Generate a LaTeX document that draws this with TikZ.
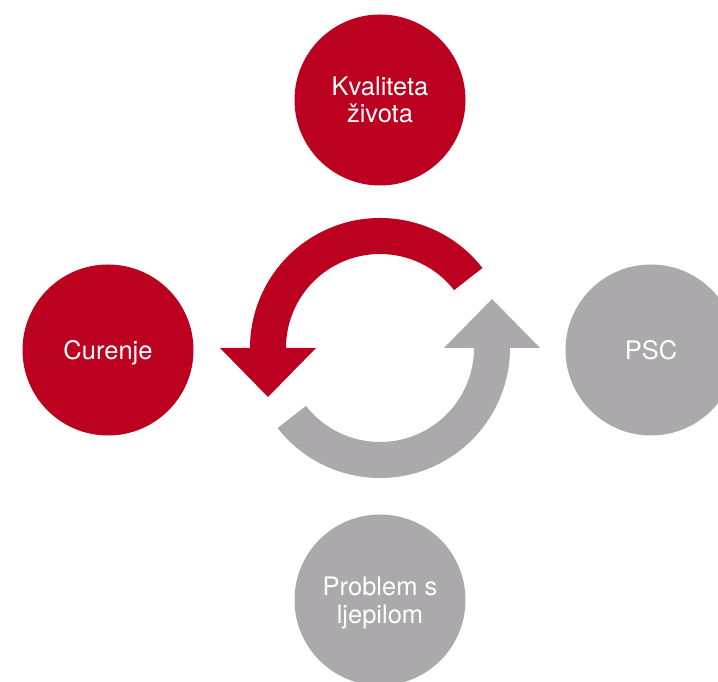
\documentclass[tikz,border=0pt]{standalone}
\usepackage{fontspec}
\setmainfont{TeX Gyre Heros}
\usetikzlibrary{calc}
\definecolor{cred}{HTML}{BC0020}
\definecolor{cgray}{HTML}{ABA9AB}
\begin{document}
\begin{tikzpicture}[x=1bp,y=1bp,
  bubble/.style={circle,minimum size=171bp,inner sep=0pt,text=white,align=center,
    font=\fontsize{25.5bp}{27.5bp}\selectfont},
  redbubble/.style={bubble,fill=cred},
  graybubble/.style={bubble,fill=cgray}]
\useasboundingbox (0,0) rectangle (718,682);
\coordinate (c) at (380,334);
\node[redbubble] (kval) at (380,582) {Kvaliteta\\života};
\node[redbubble,text depth=0pt] (cur) at (108,332) {Curenje};
\node[graybubble] (psc) at (651,332) {PSC};
\node[graybubble,text depth=0pt] (ljep) at (380,82) {Problem s\\ljepilom};
% red cycle arrow
\fill[cred] ($(c)+(38:130)$) arc[start angle=38,end angle=180,radius=130]
  -- (220,334) -- (268,285) -- (316,334) -- (286,334)
  arc[start angle=180,end angle=38,radius=94] -- cycle;
% gray cycle arrow
\fill[cgray] ($(c)+(218:130)$) arc[start angle=218,end angle=360,radius=130]
  -- (540,334) -- (492,383) -- (444,334) -- (474,334)
  arc[start angle=360,end angle=218,radius=94] -- cycle;
\end{tikzpicture}
\end{document}
